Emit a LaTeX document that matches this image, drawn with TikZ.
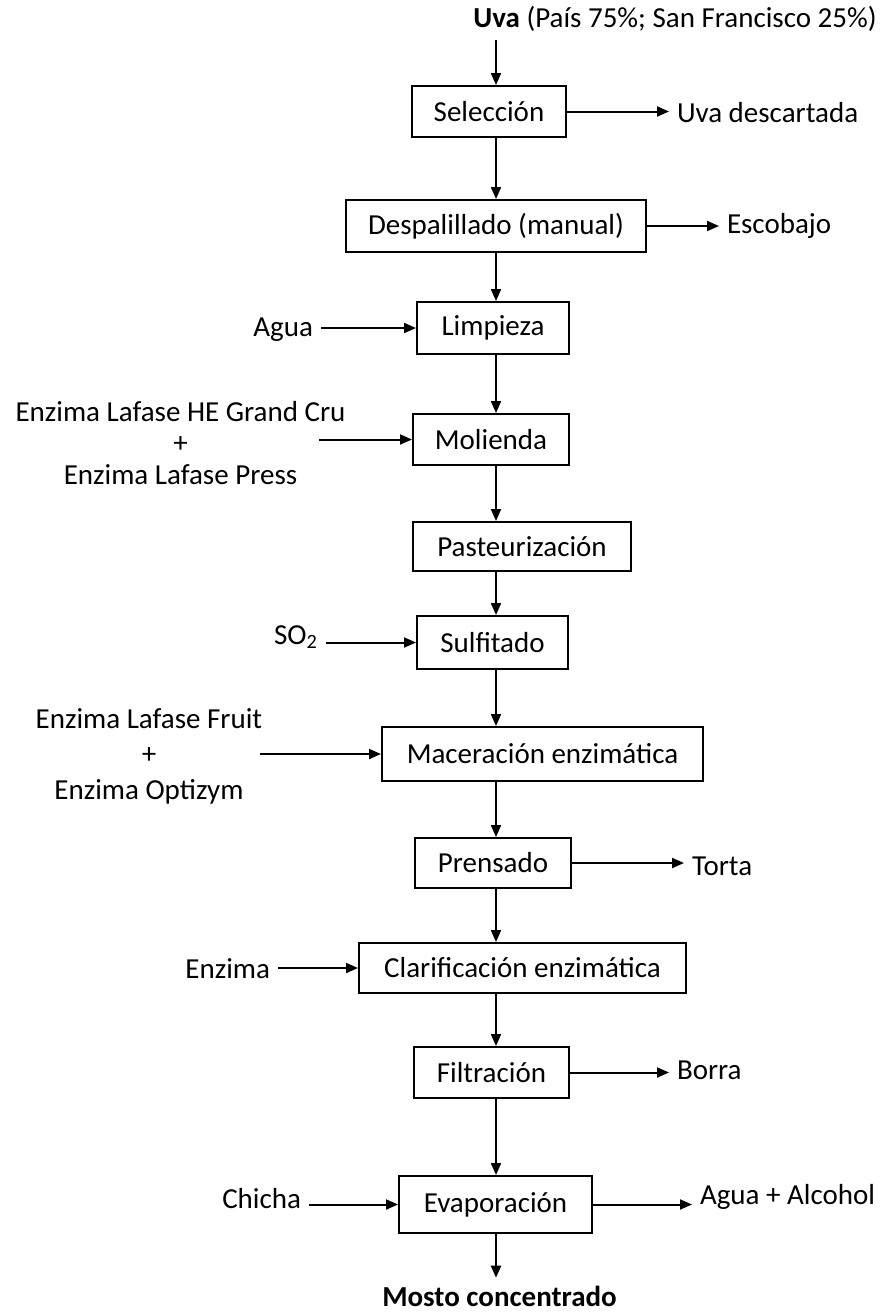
\documentclass[tikz,border=0pt]{standalone}
\usepackage{fontspec}
\setmainfont{Carlito}
\usetikzlibrary{arrows.meta}

\begin{document}
\begin{tikzpicture}[
    x=0.5pt, y=-0.5pt,
    every node/.style={font=\fontsize{14.5}{17}\selectfont},
    box/.style={rectangle, draw, line width=1pt, inner sep=0pt, align=center},
    side/.style={inner sep=0pt, outer sep=4pt, align=center},
    arrow/.style={-{Triangle[length=6pt,width=5pt]}, line width=1pt}
  ]
    \useasboundingbox (0,0) rectangle (885,1314);
    \coordinate (col) at (496,0);

    % process steps
    \node[side] (uva) at (675,19) {\textbf{Uva} (País 75\%; San Francisco 25\%)};
    \node[box, minimum width=77pt, minimum height=25.5pt] (sel) at (489,111.5) {Selección};
    \node[box, minimum width=150pt, minimum height=26pt] (desp) at (496,226) {Despalillado (manual)};
    \node[box, minimum width=76pt, minimum height=26pt] (limp) at (493,328) {Limpieza};
    \node[box, minimum width=78pt, minimum height=25.5pt] (mol) at (491,439.5) {Molienda};
    \node[box, minimum width=109pt, minimum height=24.5pt] (past) at (522,546.5) {Pasteurización};
    \node[box, minimum width=75.5pt, minimum height=26.5pt] (sulf) at (492.5,642.5) {Sulfitado};
    \node[box, minimum width=160.5pt, minimum height=27pt] (mac) at (542.5,754) {Maceración enzimática};
    \node[box, minimum width=78pt, minimum height=25pt] (prens) at (493,863) {Prensado};
    \node[box, minimum width=163.5pt, minimum height=25pt] (clar) at (522.5,968) {Clarificación enzimática};
    \node[box, minimum width=77.5pt, minimum height=25.5pt] (filt) at (491.5,1072.5) {Filtración};
    \node[box, minimum width=96.5pt, minimum height=28.5pt] (evap) at (495.5,1204.5) {Evaporación};
    \node[side] (mosto) at (499.5,1296) {\textbf{Mosto concentrado}};

    % inputs
    \node[side, anchor=east] (agua) at (321,330) {Agua};
    \node[side, font=\fontsize{14.5}{15.8}\selectfont] (enzA) at (180.5,443) {Enzima Lafase HE Grand Cru\\+\\Enzima Lafase Press};
    \coordinate (enzAin) at (319,439.5);
    \node[side, anchor=east] (so2) at (326,637) {SO\textsubscript{2}};
    \node[side, font=\fontsize{14.5}{17.8}\selectfont] (enzB) at (149,756) {Enzima Lafase Fruit\\+\\Enzima Optizym};
    \coordinate (enzBin) at (260,754);
    \node[side, anchor=east] (enzC) at (278,969) {Enzima};
    \node[side, anchor=east] (chicha) at (309,1199) {Chicha};

    % outputs
    \node[side, anchor=west] (desc) at (669,113) {Uva descartada};
    \node[side, anchor=west] (esco) at (719,226) {Escobajo};
    \node[side, anchor=west] (torta) at (684,866) {Torta};
    \node[side, anchor=west] (borra) at (669,1070) {Borra};
    \node[side, anchor=west] (agal) at (692,1197) {Agua + Alcohol};

    % main line
    \draw[arrow] (uva.south -| col) -- (sel.north -| col);
    \draw[arrow] (sel.south -| col) -- (desp.north -| col);
    \draw[arrow] (desp.south -| col) -- (limp.north -| col);
    \draw[arrow] (limp.south -| col) -- (mol.north -| col);
    \draw[arrow] (mol.south -| col) -- (past.north -| col);
    \draw[arrow] (past.south -| col) -- (sulf.north -| col);
    \draw[arrow] (sulf.south -| col) -- (mac.north -| col);
    \draw[arrow] (mac.south -| col) -- (prens.north -| col);
    \draw[arrow] (prens.south -| col) -- (clar.north -| col);
    \draw[arrow] (clar.south -| col) -- (filt.north -| col);
    \draw[arrow] (filt.south -| col) -- (evap.north -| col);
    \draw[arrow] (evap.south -| col) -- (mosto.north -| col);

    % side streams
    \draw[arrow] (agua.east |- limp.west) -- (limp.west);
    \draw[arrow] (enzAin |- mol.west) -- (mol.west);
    \draw[arrow] (so2.east |- sulf.west) -- (sulf.west);
    \draw[arrow] (enzBin |- mac.west) -- (mac.west);
    \draw[arrow] (enzC.east |- clar.west) -- (clar.west);
    \draw[arrow] (chicha.east |- evap.west) -- (evap.west);
    \draw[arrow] (sel.east) -- (desc.west |- sel.east);
    \draw[arrow] (desp.east) -- (esco.west |- desp.east);
    \draw[arrow] (prens.east) -- (torta.west |- prens.east);
    \draw[arrow] (filt.east) -- (borra.west |- filt.east);
    \draw[arrow] (evap.east) -- (agal.west |- evap.east);
\end{tikzpicture}
\end{document}
